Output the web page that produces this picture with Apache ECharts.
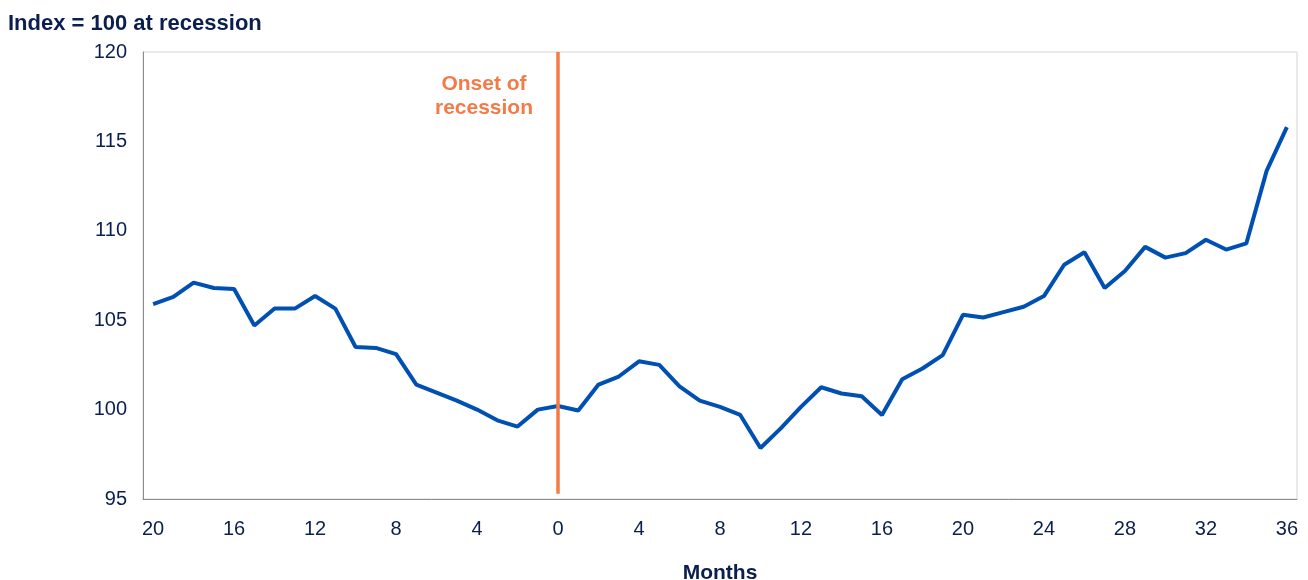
<!DOCTYPE html>
<html lang="en">
<head>
    <meta charset="UTF-8">
    <title>Index = 100 at recession</title>
    <script type="text/javascript" src="https://cdn.jsdelivr.net/npm/echarts@6/dist/echarts.min.js"></script>
    <style>
        html, body { margin: 0; padding: 0; background: #fff; }
    </style>
</head>
<body>
<div id="chart" style="width: 1308px;height: 580px"></div>
</body>
</html>
<script type="text/javascript">
    // months relative to onset of recession
    var months = [];
    for (var m = -20; m <= 36; m++) months.push(String(m));

    var indexValues = [
        105.9, 106.3, 107.1, 106.8, 106.75, 104.7, 105.65, 105.65, 106.35, 105.65,
        103.5, 103.45, 103.1, 101.4, 100.95, 100.5, 100.0, 99.4, 99.05, 100.0,
        100.2, 99.95, 101.4, 101.85, 102.7, 102.5, 101.3, 100.5, 100.15, 99.7,
        97.85, 98.95, 100.15, 101.25, 100.9, 100.75, 99.7, 101.7, 102.3, 103.05,
        105.3, 105.15, 105.45, 105.75, 106.35, 108.1, 108.8, 106.8, 107.75, 109.1,
        108.5, 108.75, 109.5, 108.95, 109.3, 113.35, 115.8
    ];

    var yMin = 95, yMax = 120, yStep = 5;
    var onsetIdx = months.indexOf('0');

    var navy = '#0b1f4f';
    var blue = '#0050b4';
    var orange = '#f47b47';
    var font = 'Liberation Sans, Arial, sans-serif';

    var chart = echarts.init(document.getElementById('chart'));
    var option = {
        animation: false,
        textStyle: {fontFamily: font},
        grid: {
            left: 143, right: 11, top: 52, bottom: 81,
            outerBoundsMode: 'none',
            containLabel: false,
            show: true, borderColor: '#d4d4d4', borderWidth: 1
        },
        title: {
            text: 'Index = 100 at recession',
            left: 3, top: 8,
            textStyle: {fontFamily: font, fontSize: 22, fontWeight: 'bold', color: navy}
        },
        xAxis: {
            type: 'category',
            data: months,
            boundaryGap: true,
            name: 'Months',
            nameLocation: 'middle',
            nameGap: 64,
            nameTextStyle: {fontFamily: font, fontSize: 21, fontWeight: 'bold', color: navy},
            axisLine: {show: true, lineStyle: {color: '#8c8c8c', width: 1}},
            axisTick: {show: false},
            axisLabel: {
                interval: 3,
                margin: 20,
                fontSize: 20,
                color: navy,
                fontFamily: font,
                formatter: function (v) { return String(Math.abs(Number(v))); }
            },
            splitLine: {show: false}
        },
        yAxis: {
            type: 'value',
            min: yMin, max: yMax, interval: yStep,
            axisLine: {show: true, lineStyle: {color: '#8c8c8c', width: 1}},
            axisTick: {show: false},
            axisLabel: {margin: 16, fontSize: 20, color: navy, fontFamily: font},
            splitLine: {show: false}
        },
        series: [{
            name: 'Index',
            type: 'line',
            data: indexValues,
            symbol: 'none',
            lineStyle: {color: blue, width: 4},
            markLine: {
                silent: true,
                symbol: ['none', 'none'],
                label: {show: false},
                lineStyle: {color: orange, width: 3.5, type: 'solid'},
                data: [[
                    {coord: [onsetIdx, yMax]},
                    {coord: [onsetIdx, yMin + 0.3]}
                ]]
            }
        }],
        graphic: [{
            type: 'text',
            x: 484, y: 72,
            style: {
                text: 'Onset of\nrecession',
                textAlign: 'center',
                align: 'center',
                fontFamily: font,
                fontSize: 21,
                fontWeight: 'bold',
                lineHeight: 24,
                fill: orange
            }
        }]
    };
    chart.setOption(option);
</script>
